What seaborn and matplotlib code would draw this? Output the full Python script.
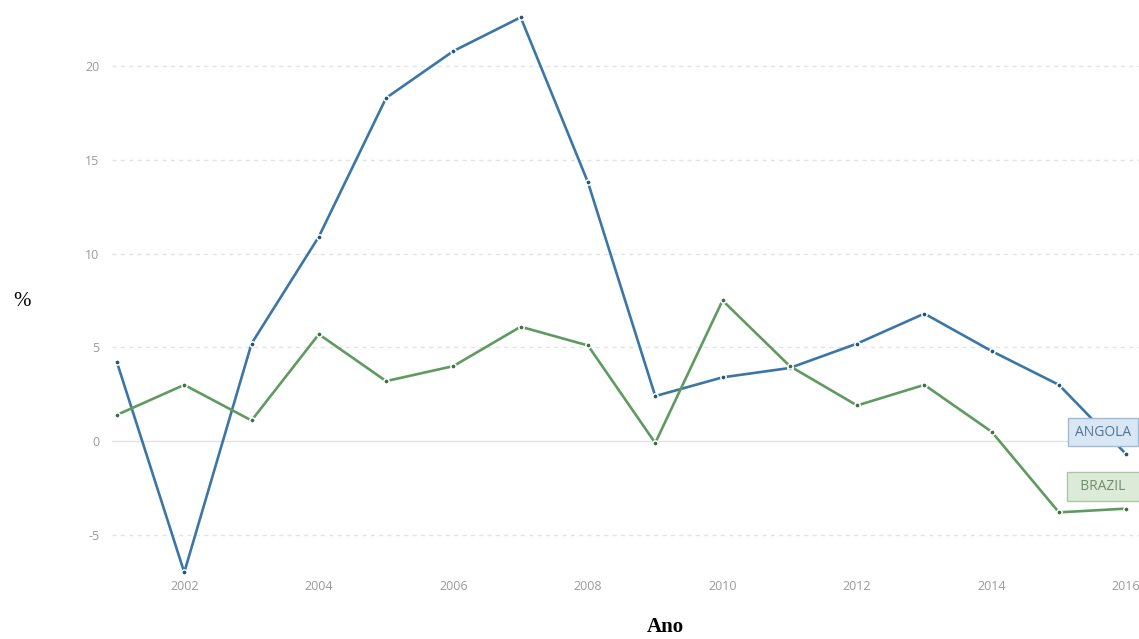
import numpy as np
import pandas as pd
import matplotlib
matplotlib.use("Agg")
import matplotlib.pyplot as plt
import seaborn as sns

# Annual GDP growth (%)
years = list(range(2001, 2017))
angola = [4.2, -7.0, 5.2, 10.9, 18.3, 20.8, 22.6, 13.8, 2.4, 3.4, 3.9, 5.2, 6.8, 4.8, 3.0, -0.7]
brazil = [1.4, 3.0, 1.1, 5.7, 3.2, 4.0, 6.1, 5.1, -0.1, 7.5, 4.0, 1.9, 3.0, 0.5, -3.8, -3.6]
series_names = ["ANGOLA", "BRAZIL"]
yticks = [-5, 0, 5, 10, 15, 20]
xticks = [2002, 2004, 2006, 2008, 2010, 2012, 2014, 2016]

df = pd.DataFrame({
    "Ano": years * 2,
    "valor": angola + brazil,
    "pais": [series_names[0]] * len(years) + [series_names[1]] * len(years),
})

line_colors = {"ANGOLA": "#3b76a6", "BRAZIL": "#5f9b5f"}
dot_colors = {"ANGOLA": "#24557d", "BRAZIL": "#3f7040"}
box_fill = {"ANGOLA": "#d9e7f4", "BRAZIL": "#dcebd8"}
box_edge = {"ANGOLA": "#9dbcd8", "BRAZIL": "#a9c9a4"}
text_col = {"ANGOLA": "#4f7595", "BRAZIL": "#6d8f6b"}
# pad the shorter label so both boxes share the same width
label_text = {"ANGOLA": "ANGOLA", "BRAZIL": "  BRAZIL  "}

sns.set_theme(style="white")
plt.rcParams["font.family"] = ["Open Sans", "DejaVu Sans"]

fig = plt.figure(figsize=(11.39, 6.39), dpi=100)
ax = fig.add_axes([112 / 1139, 1 - 578 / 639, 1 - 112 / 1139, (578 - 10) / 639])

sns.lineplot(data=df, x="Ano", y="valor", hue="pais", palette=line_colors,
             linewidth=1.9, legend=False, ax=ax, zorder=3)

for name in series_names:
    sub = df[df["pais"] == name]
    ax.plot(sub["Ano"], sub["valor"], linestyle="none", marker="o",
            markersize=3.8, markerfacecolor=dot_colors[name],
            markeredgecolor="white", markeredgewidth=1.1, zorder=4, clip_on=False)

ax.set_xlim(2000.926, 2016.19)
ax.set_ylim(-7.3, 22.99)

for v in yticks:
    if v == 0:
        ax.axhline(0, color="#e2e2e2", linewidth=1.0, zorder=1)
    else:
        ax.axhline(v, color="#e4e4e4", linewidth=1.0, linestyle=(0, (3, 3)), zorder=1)

ax.set_yticks(yticks)
ax.set_yticklabels([str(v) for v in yticks])
ax.set_xticks(xticks)
ax.set_xticklabels([str(v) for v in xticks])
ax.tick_params(axis="y", length=0, pad=9, labelsize=9, labelcolor="#9a9a9a")
ax.tick_params(axis="x", length=0, pad=1.5, labelsize=9, labelcolor="#9a9a9a")
for s in ax.spines.values():
    s.set_visible(False)
ax.set_xlabel("")
ax.set_ylabel("")

# series labels next to the last point
last = {"ANGOLA": angola[-1], "BRAZIL": brazil[-1]}
for name in series_names:
    ax.annotate(label_text[name], xy=(years[-1], last[name]), xytext=(-16.5, 16),
                textcoords="offset points", ha="center", va="center",
                fontsize=10, color=text_col[name], zorder=5,
                bbox=dict(boxstyle="square,pad=0.5", facecolor=box_fill[name],
                          edgecolor=box_edge[name], linewidth=1.0),
                annotation_clip=False)

fig.text(22 / 1139, 1 - 302 / 639, "%", fontsize=15, family="Liberation Serif",
         ha="center", va="center", color="black")
fig.text(665 / 1139, 1 - 627 / 639, "Ano", fontsize=15, family="Liberation Serif",
         fontweight="bold", ha="center", va="center", color="black")

fig.savefig("out.png", dpi=100, facecolor="white")
